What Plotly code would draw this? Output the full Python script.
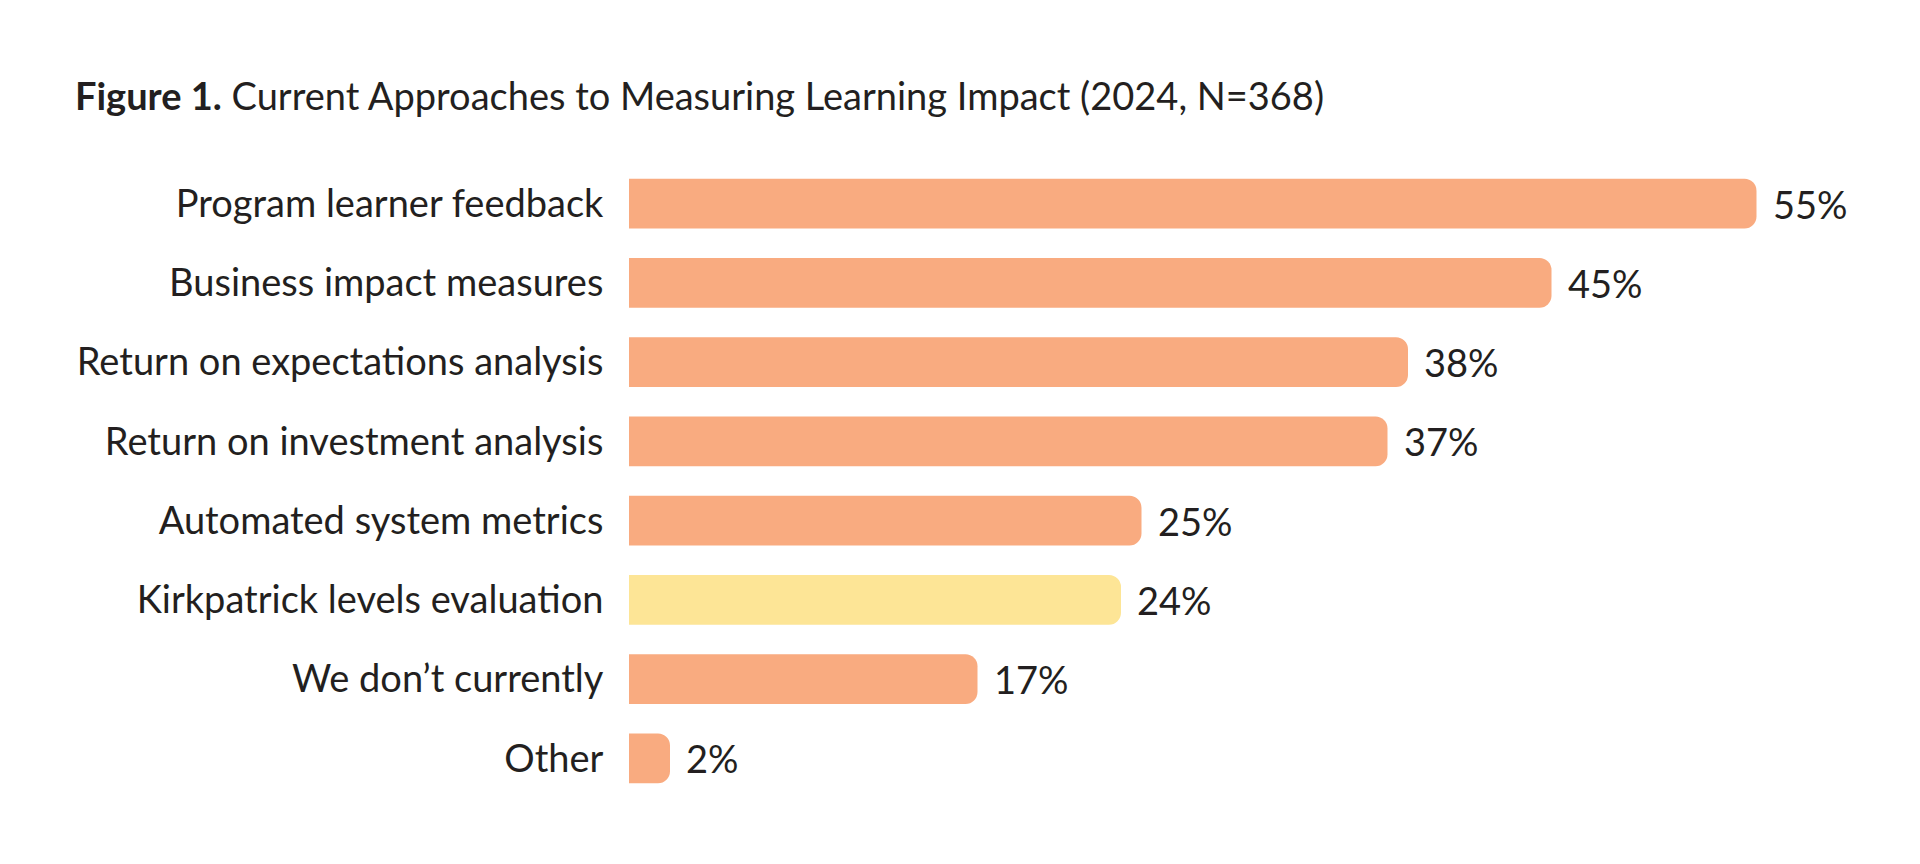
import plotly.graph_objects as go

categories = [
    "Program learner feedback",
    "Business impact measures",
    "Return on expectations analysis",
    "Return on investment analysis",
    "Automated system metrics",
    "Kirkpatrick levels evaluation",
    "We don\u2019t currently",
    "Other",
]
values = [55, 45, 38, 37, 25, 24, 17, 2]
highlight = "Kirkpatrick levels evaluation"

ORANGE = "#F9AB80"
YELLOW = "#FDE596"
TEXT = "#231F20"
FONT = "Lato"

colors = [YELLOW if c == highlight else ORANGE for c in categories]

fig = go.Figure(go.Bar(
    x=values,
    y=categories,
    orientation="h",
    marker=dict(color=colors, line=dict(width=0), cornerradius=12),
    hoverinfo="skip",
))

# value labels just past the bar ends
for c, v in zip(categories, values):
    fig.add_annotation(
        x=v, y=c, text=f"{v}%", showarrow=False,
        xanchor="left", xshift=14,
        font=dict(family=FONT, size=38, color=TEXT),
    )

fig.update_layout(
    width=1920,
    height=864,
    margin=dict(l=621, r=69, t=156, b=74),
    paper_bgcolor="white",
    plot_bgcolor="white",
    bargap=0.37,
    showlegend=False,
    title=dict(
        text="<b>Figure 1.</b> Current Approaches to Measuring Learning Impact (2024, N=368)",
        xref="container", x=67 / 1920, xanchor="left",
        yref="container", y=1 - 89 / 864, yanchor="middle",
        font=dict(family=FONT, size=38, color=TEXT),
    ),
    xaxis=dict(range=[0, 60], visible=False, fixedrange=True),
    yaxis=dict(
        autorange="reversed",
        showgrid=False, zeroline=False, showline=False,
        ticks="outside", ticklen=17, tickcolor="rgba(0,0,0,0)",
        tickfont=dict(family=FONT, size=38, color=TEXT),
        fixedrange=True,
    ),
)

fig.write_html("out.html")
